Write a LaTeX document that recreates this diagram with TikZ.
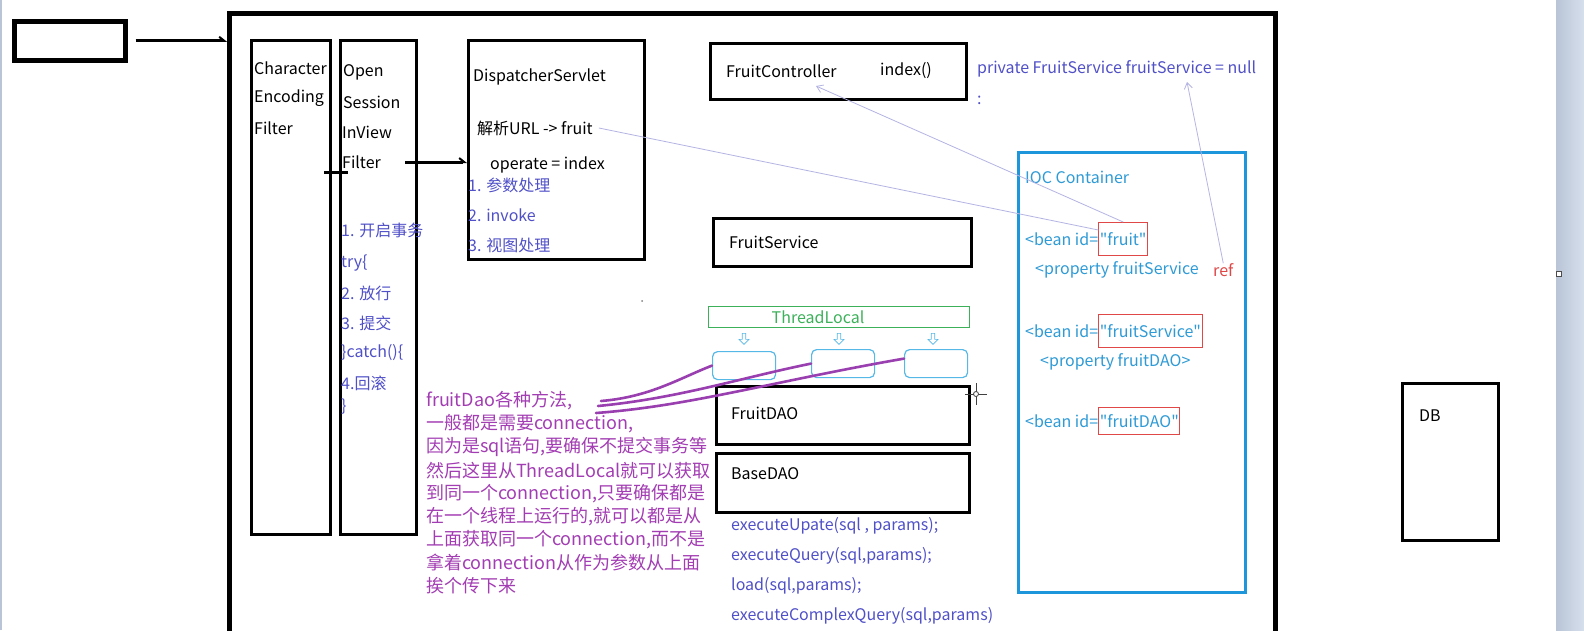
\documentclass[tikz,border=0pt]{standalone}
\usepackage{fontspec}
\setmainfont{Noto Sans CJK SC}
\usetikzlibrary{positioning,calc,arrows.meta,shapes.arrows}

\begin{document}
\begin{tikzpicture}[x=1pt,y=-1pt]
    \definecolor{colnote}{HTML}{5050C8}
    \definecolor{colioc}{HTML}{1E96DC}
    \definecolor{colbean}{HTML}{2F9BD6}
    \definecolor{colred}{HTML}{E04848}
    \definecolor{colpurple}{HTML}{A33DB3}
    \definecolor{colcurve}{HTML}{9A3FB0}
    \definecolor{collink}{HTML}{B4B4E4}
    \definecolor{colgreen}{HTML}{3DB15A}
    \definecolor{colcell}{HTML}{55B8E6}
    \definecolor{colbarL}{HTML}{B9C5D7}
    \definecolor{colbarR}{HTML}{D6DFEC}

    \tikzstyle{box}=[draw=black,line width=3pt,anchor=north west,inner sep=0pt]
    \tikzstyle{lbl}=[anchor=west,inner sep=0pt,font=\fontsize{16}{19}\selectfont]
    \tikzstyle{note}=[lbl,text=colnote]
    \tikzstyle{bean}=[lbl,text=colbean]
    \tikzstyle{purp}=[anchor=west,inner sep=0pt,text=colpurple,font=\fontsize{18}{22}\selectfont]
    \tikzstyle{idbox}=[draw=colred,line width=1pt,text=colbean,inner xsep=1pt,minimum height=33pt,
                       font=\fontsize{16}{19}\selectfont]
    \tikzstyle{cell}=[draw=colcell,line width=1.2pt,rounded corners=5pt,anchor=north west,
                      minimum width=63pt,minimum height=28pt,inner sep=0pt]
    \tikzstyle{down}=[single arrow,draw=colcell,shape border rotate=270,minimum height=11pt,
                      minimum width=10pt,single arrow head extend=1.5pt,inner sep=0.5pt,line width=0.6pt]
    \tikzstyle{barrow}=[line width=3pt,-{Straight Barb[harpoon,length=5pt,width=8pt,line width=2pt]}]
    \tikzstyle{link}=[collink,line width=0.8pt]
    \tikzstyle{curve}=[colcurve,line width=2.6pt,line cap=round]
    \newcommand{\qt}[1]{\textquotedbl#1\textquotedbl}

    % screen
    \fill[white] (0,0) rectangle (1584,630);
    \useasboundingbox (0,0) rectangle (1584,630);
    \shade[left color=colbarL,right color=colbarR] (1556,0) rectangle (1584,630);
    \fill[colbarL] (0,0) rectangle (2,630);
    \draw[black!70,fill=white,line width=0.6pt] (1556,271) rectangle (1561,276);

    % frames
    \node[box,minimum width=111pt,minimum height=39pt,line width=4.5pt] (client) at (12,19) {};
    \node[box,minimum width=1046pt,minimum height=640pt,line width=5pt] (server) at (227,11) {};
    \node[box,minimum width=79pt,minimum height=494pt] (charF) at (250,39) {};
    \node[box,minimum width=76pt,minimum height=494pt] (openF) at (339,39) {};
    \node[box,minimum width=176pt,minimum height=219pt] (disp) at (467,39) {};
    \node[box,minimum width=256pt,minimum height=56pt] (ctrl) at (709,42) {};
    \node[box,minimum width=258pt,minimum height=48pt] (svc) at (712,217) {};
    \node[box,minimum width=253pt,minimum height=58pt] (dao) at (715,385) {};
    \node[box,minimum width=253pt,minimum height=59pt] (base) at (715,452) {};
    \node[box,minimum width=96pt,minimum height=157pt] (db) at (1401,382) {};
    \node[box,draw=colioc,minimum width=227pt,minimum height=440pt] (ioc) at (1017,151) {};

    % filters
    \node[lbl] (charT1) at (254,68) {Character};
    \node[lbl] (charT2) at (254,98) {Encoding};
    \node[lbl] (charT3) at (254,128) {Filter};
    \node[lbl] (openT1) at (343,72) {Open};
    \node[lbl] (openT2) at (343,102) {Session};
    \node[lbl] (openT3) at (342,132) {InView};
    \node[lbl] (filT) at (342,162) {Filter};
    \foreach \i/\y/\t in {1/230/{1. 开启事务},2/263/{try\{},3/293/{2. 放行},4/323/{3. 提交},
                          5/353/{\}catch()\{},6/383/{4.回滚},7/407/{\}}}
        \node[note] (tx\i) at (341,\y) {\t};
    \draw[line width=3pt] (324,172) -- (348,172);

    % dispatcher
    \node[lbl] (dispT) at (473,77) {DispatcherServlet};
    \node[lbl] (urlT) at (477,128) {解析URL -> fruit};
    \node[lbl] (opT) at (490,165) {operate = index};
    \node[note] (step1) at (468,185) {1. 参数处理};
    \node[note] (step2) at (468,215) {2. invoke};
    \node[note] (step3) at (468,245) {3. 视图处理};

    % controller, service
    \node[lbl] (ctrlT) at (726,71) {FruitController};
    \node[lbl] (idxT) at (880,71) {index()};
    \node[note] (privT) at (977,69) {private FruitService fruitService = null};
    \node[note] (colonT) at (977,100) {:};
    \node[lbl] (svcT) at (729,242) {FruitService};

    % thread local
    \node[draw=colgreen,line width=1pt,anchor=north west,minimum width=261pt,minimum height=21pt,
          inner sep=0pt] (tlocal) at (708,306) {};
    \node[lbl,anchor=center,text=colgreen] (tlocalT) at (818,317) {ThreadLocal};
    \node[cell] (cell1) at (712,351) {};
    \node[cell] (cell2) at (811,349) {};
    \node[cell] (cell3) at (904,349) {};
    \node[down] (dn1) at (744,338) {};
    \node[down] (dn2) at (839,338) {};
    \node[down] (dn3) at (933,338) {};

    % dao
    \node[lbl] (daoT) at (731,413) {FruitDAO};
    \node[lbl] (baseT) at (731,474) {BaseDAO};
    \foreach \i/\y/\t in {1/526/{executeUpate(sql , params);},2/556/{executeQuery(sql,params);},
                          3/586/{load(sql,params);},4/616/{executeComplexQuery(sql,params)}}
        \node[note] (exec\i) at (731,\y) {\t};
    \node[lbl] (dbT) at (1419,416) {DB};

    % ioc container
    \node[bean] (iocT) at (1025,177) {IOC Container};
    \node[bean] (bean1) at (1025,239) {<bean id=};
    \node[idbox,right=0pt of bean1] (fruitbx) {\qt{fruit}};
    \node[bean] (prop1) at (1035,270) {<property fruitService};
    \node[lbl,text=colred] (refT) at (1213,270) {ref};
    \node[bean] (bean2) at (1025,331) {<bean id=};
    \node[idbox,right=0pt of bean2] (svcbx) {\qt{fruitService}};
    \node[bean] (prop2) at (1040,362) {<property fruitDAO>};
    \node[bean] (bean3) at (1025,421) {<bean id=};
    \node[idbox,right=0pt of bean3,minimum height=27pt] (daobx) {\qt{fruitDAO}};

    % links
    \coordinate (ctrlTip) at (816,86);
    \coordinate (privTip) at (1187,82);
    \draw[link] ([xshift=6pt]urlT.east) -- ([yshift=-8pt]fruitbx.north west);
    \draw[link,-{Straight Barb[length=6pt,width=8pt]}] (fruitbx.north) -- (ctrlTip);
    \draw[link,-{Straight Barb[length=6pt,width=8pt]}] (refT.north) -- (privTip);

    % arrows
    \draw[barrow] ([xshift=8pt]client.east) -- (client.east -| server.west);
    \draw[barrow] ([xshift=24pt]filT.east) -- (filT.east -| disp.west);

    % explanation
    \foreach \i/\t in {0/{fruitDao各种方法,},1/{一般都是需要connection,},2/{因为是sql语句,要确保不提交事务等},
                       3/{然后这里从ThreadLocal就可以获取},4/{到同一个connection,只要确保都是},
                       5/{在一个线程上运行的,就可以都是从},6/{上面获取同一个connection,而不是},
                       7/{拿着connection从作为参数从上面},8/{挨个传下来}}
        \node[purp] (say\i) at (426,{401+23.1*\i}) {\t};
    \coordinate (from1) at (601,401);
    \coordinate (from2) at (598,406);
    \coordinate (from3) at (596,413);
    \draw[curve] (from1) .. controls (650,397) and (680,378) .. (cell1.west);
    \draw[curve] (from2) .. controls (680,398) and (740,378) .. (cell2.west);
    \draw[curve] (from3) .. controls (690,406) and (770,382) .. ([yshift=5pt]cell3.west);

    % cursor and marks
    \draw[black!75,line width=0.8pt] (976,383) -- (976,405) (965,394) -- (987,394);
    \draw[black!75,line width=0.8pt,fill=white] (976,394) circle[radius=2.5];
    \fill[black!50] (642,301) circle[radius=1];
\end{tikzpicture}
\end{document}
